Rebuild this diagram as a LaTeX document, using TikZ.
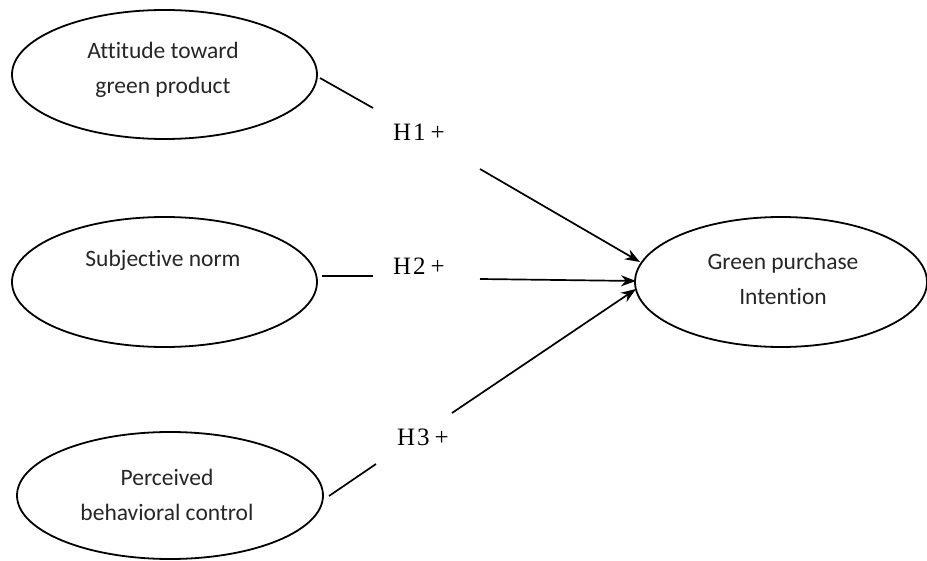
\documentclass[tikz,border=0pt]{standalone}
\usepackage{fontspec}
\setmainfont[Ligatures={NoCommon}]{Carlito}
\newfontfamily\labfont{Liberation Serif}
\usetikzlibrary{shapes.geometric,arrows.meta}
\begin{document}
\begin{tikzpicture}[x=1pt,y=-1pt,
  construct/.style={draw,line width=1.8pt,ellipse,inner sep=0pt},
  ctext/.style={align=center,font=\fontsize{23.5}{35}\selectfont,text=black!85},
  hyp/.style={font=\labfont\fontsize{25}{28}\selectfont},
  conn/.style={line width=1.7pt},
  arr/.style={line width=1.7pt,-{Stealth[length=15pt,width=11pt]}}]
\useasboundingbox (0,0) rectangle (927,561);
% constructs
\node[construct,minimum width=305pt,minimum height=129pt] (e1) at (164.5,74.5) {};
\node[construct,minimum width=305pt,minimum height=130pt] (e2) at (164.5,282) {};
\node[construct,minimum width=306pt,minimum height=127pt] (e3) at (170,495.5) {};
\node[construct,minimum width=292pt,minimum height=130pt] (e4) at (781,282) {};
% texts
\node[ctext] (t1) at (163,70) {Attitude toward\\green product};
\node[ctext] (t2) at (163,260) {Subjective norm};
\node[ctext] (t3) at (167,495) {Perceived\\behavioral control};
\node[ctext] (t4) at (783,279) {Green purchase\\Intention};
% hypothesis labels
\node[hyp] (h1) at (419,132) {H\kern2pt1\kern5pt+};
\node[hyp] (h2) at (419,266) {H\kern2pt2\kern5pt+};
\node[hyp] (h3) at (423,437) {H\kern2pt3\kern5pt+};
% connector coordinates
\coordinate (a1) at (320,78);  \coordinate (b1) at (373,108);
\coordinate (c1) at (480,169); \coordinate (d1) at (640,262);
\coordinate (a2) at (322,276); \coordinate (b2) at (373,276);
\coordinate (c2) at (480,279); \coordinate (d2) at (636,281);
\coordinate (a3) at (329,496); \coordinate (b3) at (376,464);
\coordinate (c3) at (452,413); \coordinate (d3) at (636,289);
\draw[conn] (a1) -- (b1);
\draw[arr] (c1) -- (d1);
\draw[conn] (a2) -- (b2);
\draw[arr] (c2) -- (d2);
\draw[conn] (a3) -- (b3);
\draw[arr] (c3) -- (d3);
\end{tikzpicture}
\end{document}
